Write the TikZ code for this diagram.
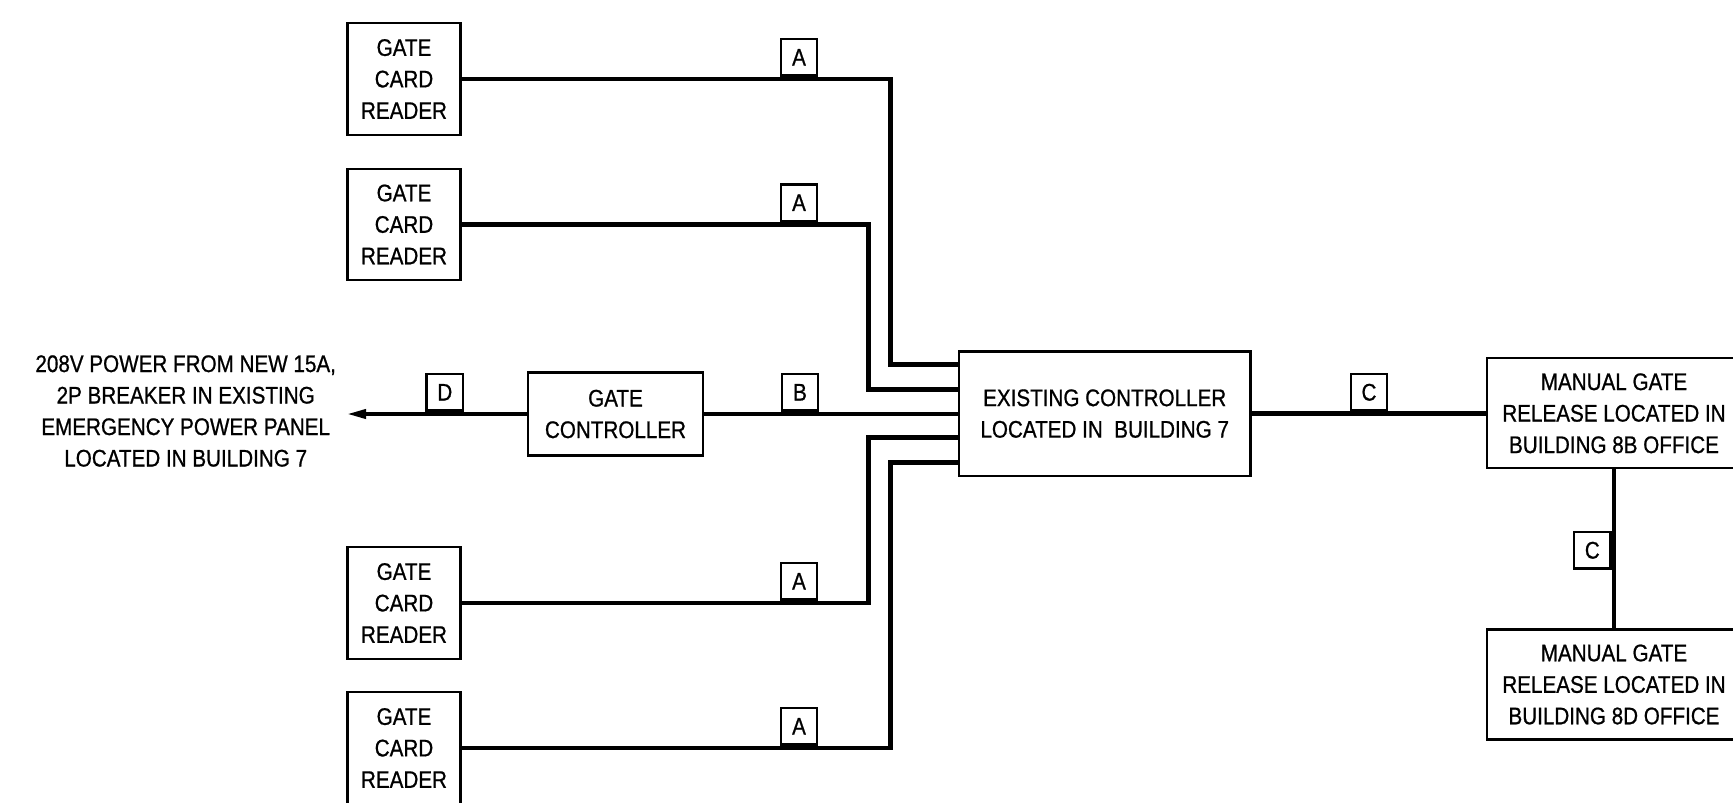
\documentclass[tikz,border=0pt]{standalone}
\usepackage{fontspec}
\setmainfont{Liberation Sans}[FakeStretch=0.86, FakeBold=0.8]
\usepackage{tikz}
\usetikzlibrary{arrows.meta,positioning}

\begin{document}
\begin{tikzpicture}[x=1pt, y=-1pt, >=Stealth,
    every node/.style={font=\fontsize{24}{31.5}\selectfont, align=center, inner sep=0pt},
    unit/.style={draw, line width=2.3pt, minimum width=113pt, minimum height=111.5pt},
    tag/.style={draw, line width=2.3pt, minimum size=36.5pt, anchor=south},
    wire/.style={line width=4.6pt}]
  \clip (0,0) rectangle (1733,803);

  % Card readers
  \node[unit] (r1) at (404,79) {GATE\\CARD\\READER};
  \node[unit] (r2) at (404,224.4) {GATE\\CARD\\READER};
  \node[unit] (r3) at (404,603) {GATE\\CARD\\READER};
  \node[unit] (r4) at (404,748) {GATE\\CARD\\READER};

  % Controllers
  \node[unit, minimum width=175pt, minimum height=83pt] (gc) at (615.5,414) {GATE\\CONTROLLER};
  \node[unit, minimum width=291.5pt, minimum height=124.5pt] (ctrl) at (1104.7,413.6)
    {EXISTING CONTROLLER\\LOCATED IN\ \ BUILDING 7};

  % Manual releases
  \node[unit, minimum width=254pt, minimum height=110pt] (m8b) at (1614,413.3)
    {MANUAL GATE\\RELEASE LOCATED IN\\BUILDING 8B OFFICE};
  \node[unit, minimum width=254pt, minimum height=110pt] (m8d) at (1614,684.5)
    {MANUAL GATE\\RELEASE LOCATED IN\\BUILDING 8D OFFICE};

  % Power source
  \node (pwr) at (185.7,411) {208V POWER FROM NEW 15A,\\2P BREAKER IN EXISTING\\EMERGENCY POWER PANEL\\LOCATED IN BUILDING 7};
  \coordinate (feed) at (345,414);

  % Controller inputs
  \coordinate (in1) at (ctrl.west |- 0,364.3);
  \coordinate (in2) at (ctrl.west |- 0,389.3);
  \coordinate (in3) at (ctrl.west |- 0,437.7);
  \coordinate (in4) at (ctrl.west |- 0,462.3);

  % Wiring
  \draw[wire] (r1.east) -| (890.7,364.3) -- (in1);
  \draw[wire] (r2.east) -| (868.3,389.3) -- (in2);
  \draw[wire] (r3.east) -| (868.3,437.7) -- (in3);
  \draw[wire] (r4.east) -| (890.7,462.3) -- (in4);
  \draw[wire] (gc.east) -- (gc.east -| ctrl.west);
  \draw[wire, -{Triangle[length=21pt, width=8.5pt]}] (gc.west) -- (feed);
  \draw[wire] (ctrl.east) -- (ctrl.east -| m8b.west);
  \draw[wire] (m8b.south) -- (m8d.north);

  % Cable tags
  \node[tag] (ta1) at (799,76.7) {A};
  \node[tag] (ta2) at (799,222.1) {A};
  \node[tag] (ta3) at (799,600.7) {A};
  \node[tag] (ta4) at (799,745.7) {A};
  \node[tag] (tb) at (800,411.7) {B};
  \node[tag] (td) at (444.8,411.7) {D};
  \node[tag] (tc1) at (1369,411.7) {C};
  \node[tag, anchor=east] (tc2) at (1611.7,550.3) {C};
\end{tikzpicture}
\end{document}
